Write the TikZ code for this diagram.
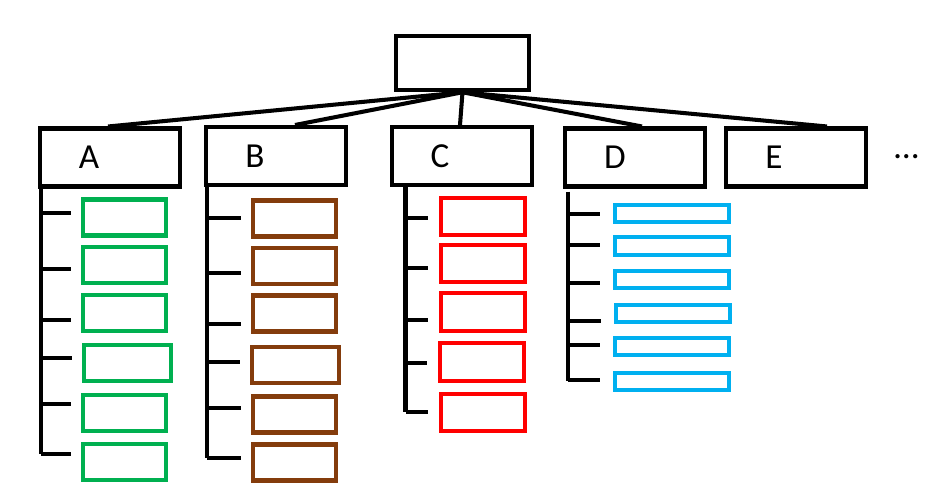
\documentclass[tikz,border=0pt]{standalone}
\usepackage{fontspec}
\setmainfont{Carlito}
\usepackage{xcolor}
\usepackage{tikz}

\definecolor{leafgreen}{HTML}{00B050}
\definecolor{leafbrown}{HTML}{843C0C}
\definecolor{leafred}{HTML}{FF0000}
\definecolor{leafcyan}{HTML}{00B0F0}

\tikzset{
  rootbox/.style={draw=black, line width=2.3pt, minimum width=2.67cm, minimum height=1.09cm, inner sep=0pt},
  catbox/.style={draw=black, line width=2.3pt, minimum width=2.81cm, minimum height=1.16cm, inner sep=0pt},
  leafbox/.style={draw=#1, line width=2.3pt, minimum width=1.67cm, minimum height=0.72cm, inner sep=0pt},
  branch/.style={black, line width=2.3pt},
  catname/.style={font=\fontsize{20}{24}\selectfont}
}

\begin{document}
\begin{tikzpicture}[x=0.02cm, y=-0.02cm]
\useasboundingbox (0,0) rectangle (926,490);
% root and categories
\node [rootbox] (root) at (462.5,63) {};
\node [catbox, label={[catname, xshift=-0.42cm]center:A}] (A) at (110,157.5) {};
\node [catbox, label={[catname, xshift=-0.42cm]center:B}] (B) at (276,156) {};
\node [catbox, label={[catname, xshift=-0.44cm]center:C}] (C) at (462,156) {};
\node [catbox, label={[catname, xshift=-0.40cm]center:D}] (D) at (635,157.5) {};
\node [catbox, label={[catname, xshift=-0.44cm]center:E}] (E) at (796,157.5) {};
\node [catname] (more) at (906.5,157) {…};
\foreach \c/\s in {A/-0.04, B/0.38, C/-0.04, D/0.14, E/0.62}
  \draw [branch] (root.south) -- ([xshift=\s cm]\c.north);
% trunks
\coordinate (aEnd) at (41,454);
\coordinate (bEnd) at (207,458);
\coordinate (cEnd) at (405.5,412);
\coordinate (dEnd) at (568,381);
\draw [branch] (A.south west -| aEnd) -- (aEnd);
\draw [branch] (B.south west -| bEnd) -- (bEnd);
\draw [branch] (C.south west -| cEnd) -- (cEnd);
\draw [branch] ([yshift=-0.06cm]D.south west -| dEnd) -- (dEnd);
% group A
\foreach \i/\x/\y/\w/\t in {1/124.5/217.5/1.67/213, 2/124.5/265/1.67/269, 3/124.5/313/1.67/320,
    4/127.5/363/1.75/358, 5/124.5/413/1.67/404, 6/124.5/462/1.67/454} {
  \node [leafbox=leafgreen, minimum width=\w cm] (a\i) at (\x,\y) {};
  \draw [branch] (aEnd |- 0,\t) -- ([xshift=-0.2cm]a\i.west |- 0,\t);
}
% group B
\foreach \i/\x/\y/\w/\t in {1/294.5/218.5/1.67/218, 2/294.5/266/1.67/273, 3/294.5/313.5/1.67/324,
    4/295.5/365/1.75/362, 5/294.5/414.5/1.67/408, 6/294.5/462.5/1.67/458} {
  \node [leafbox=leafbrown, minimum width=\w cm] (b\i) at (\x,\y) {};
  \draw [branch] (bEnd |- 0,\t) -- ([xshift=-0.2cm]b\i.west |- 0,\t);
}
% group C
\foreach \i/\x/\y/\t in {1/483/216.5/218, 2/483/263.5/268, 3/483/312/320,
    4/482/362/363, 5/483/412.5/412} {
  \node [leafbox=leafred, minimum width=1.69cm, minimum height=0.75cm] (c\i) at (\x,\y) {};
  \draw [branch] (cEnd |- 0,\t) -- ([xshift=-0.22cm]c\i.west |- 0,\t);
}
% group D
\foreach \i/\x/\y/\t in {1/672/213.5/214, 2/672/246/245, 3/672/279.5/283,
    4/673/313.5/321, 5/672/346.5/345, 6/672/381.5/380} {
  \node [leafbox=leafcyan, minimum width=2.29cm, minimum height=0.35cm] (d\i) at (\x,\y) {};
  \draw [branch] (dEnd |- 0,\t) -- ([xshift=-0.26cm]d\i.west |- 0,\t);
}
\end{tikzpicture}
\end{document}
